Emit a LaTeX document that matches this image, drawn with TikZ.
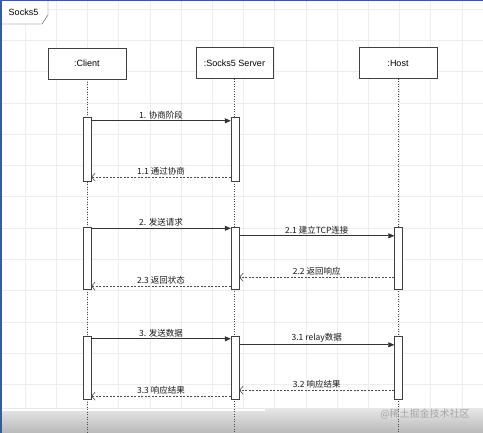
\documentclass[tikz,border=0pt]{standalone}
\usepackage{fontspec}
\setmainfont{Liberation Sans}
\newfontfamily\cjk{Noto Sans CJK SC}
\usepackage{xcolor}
\usetikzlibrary{arrows.meta}

\definecolor{edgeblue}{HTML}{3A5A98}
\tikzset{
  actor/.style={draw=black!75, fill=white, minimum width=78pt, minimum height=31pt,
    inner sep=0pt, font=\fontsize{9}{10}\selectfont},
  bar/.style={draw=black!75, fill=white, minimum width=8pt, inner sep=0pt},
  lifeline/.style={black!70, line width=0.8pt, dash pattern=on 1pt off 1.5pt},
  call/.style={black!80, line width=0.7pt, -{Triangle[length=6pt,width=5pt]}},
  reply/.style={black!70, line width=0.6pt, dash pattern=on 2pt off 1.5pt,
    -{Straight Barb[length=3.5pt,width=8pt]}},
  msglabel/.style={font=\cjk\fontsize{8.5}{10}\selectfont, text=black!90, inner sep=1.5pt}
}

\begin{document}
\begin{tikzpicture}[x=1pt, y=-1pt]
\useasboundingbox (0,0) rectangle (483,433);

% Background grid
\fill[white] (0,0) rectangle (483,433);
\foreach \gx in {25,56.2,...,483} \draw[black!7, line width=0.6pt] (\gx,0) -- (\gx,433);
\foreach \gy in {9,40.3,...,433} \draw[black!7, line width=0.6pt] (0,\gy) -- (483,\gy);

% Bottom band
\shade[top color=gray!20, bottom color=gray!55] (0,409) rectangle (483,433);
\draw[white, line width=1.2pt] (0,410) -- (265,410);

% Frame tab
\draw[black!75, fill=white] (0,0) -- (48,0) -- (48,15) -- (42,24) -- (0,24) -- cycle;
\node[font=\fontsize{9}{10}\selectfont] (tab) at (23.5,12.5) {Socks5};
\draw[edgeblue, line width=1.5pt] (0.75,433) -- (0.75,0.75) -- (483,0.75);

% Participants
\node[actor] (client) at (87,63.5) {:Client};
\node[actor, minimum width=77pt] (server) at (234.5,63) {:Socks5 Server};
\node[actor] (host) at (398,63) {:Host};
\coordinate (bottom) at (0,433);
\foreach \a in {client,server,host} \draw[lifeline] (\a.south) -- (\a.south |- bottom);

% Activation bars
\node[bar, minimum height=64pt] (c1) at (87,149) {};
\node[bar, minimum height=64pt] (s1) at (235,149) {};
\node[bar, minimum height=62pt] (c2) at (87,258) {};
\node[bar, minimum height=62pt] (s2) at (235,258) {};
\node[bar, minimum height=62pt] (h2) at (398.5,258) {};
\node[bar, minimum height=63pt] (c3) at (87,367.5) {};
\node[bar, minimum height=63pt] (s3) at (235,367.5) {};
\node[bar, minimum height=63pt] (h3) at (398.5,367.5) {};

% Negotiation
\draw[call] ([yshift=-4pt]c1.north east) -- ([yshift=-4pt]s1.north west)
  node[msglabel, midway, above] (l1) {1. 协商阶段};
\draw[reply] ([yshift=4pt]s1.south west) -- ([yshift=4pt]c1.south east)
  node[msglabel, midway, above] (l11) {1.1 通过协商};

% Request
\draw[call] ([yshift=-1.5pt]c2.north east) -- ([yshift=-1.5pt]s2.north west)
  node[msglabel, midway, above] (l2) {2. 发送请求};
\draw[call] ([yshift=-9pt]s2.north east) -- ([yshift=-9pt]h2.north west)
  node[msglabel, midway, above] (l21) {2.1 建立TCP连接};
\draw[reply] ([yshift=12pt]h2.south west) -- ([yshift=12pt]s2.south east)
  node[msglabel, midway, above] (l22) {2.2 返回响应};
\draw[reply] ([yshift=3pt]s2.south west) -- ([yshift=3pt]c2.south east)
  node[msglabel, midway, above] (l23) {2.3 返回状态};

% Data relay
\draw[call] ([yshift=-3pt]c3.north east) -- ([yshift=-3pt]s3.north west)
  node[msglabel, midway, above] (l3) {3. 发送数据};
\draw[call] ([yshift=-9pt]s3.north east) -- ([yshift=-9pt]h3.north west)
  node[msglabel, midway, above] (l31) {3.1 relay数据};
\draw[reply] ([yshift=9pt]h3.south west) -- ([yshift=9pt]s3.south east)
  node[msglabel, midway, above] (l32) {3.2 响应结果};
\draw[reply] ([yshift=3pt]s3.south west) -- ([yshift=3pt]c3.south east)
  node[msglabel, midway, above] (l33) {3.3 响应结果};

\node[font=\cjk\fontsize{10}{12}\selectfont, text=gray!70] (mark) at (425,414) {@稀土掘金技术社区};
\end{tikzpicture}
\end{document}
